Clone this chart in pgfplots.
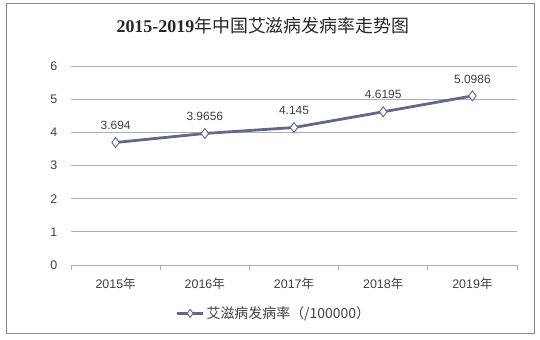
\documentclass[border=0pt]{standalone}
\usepackage{pgfplots}
\pgfplotsset{compat=1.18}
\usepackage{fontspec}
\setmainfont{Liberation Sans}
\newfontfamily\cjk{Noto Sans CJK SC}
\newfontfamily\tserif{Liberation Serif}
\definecolor{lineblue}{RGB}{96,104,142}
\definecolor{txt}{RGB}{64,64,64}
\definecolor{gridc}{RGB}{175,175,175}
\definecolor{framec}{RGB}{137,137,137}
\pgfplotstableread{
x y lab
0.5 3.694 3.694
1.5 3.9656 3.9656
2.5 4.145 4.145
3.5 4.6195 4.6195
4.5 5.0986 5.0986
}\datatab
\begin{document}
\begin{tikzpicture}
\path (0bp,0bp) rectangle (540bp,340bp);
\draw[framec, line width=1bp] (6bp,6bp) rectangle (534bp,336bp);
\node[font=\fontsize{18}{20}\selectfont, text=black!85] at (263bp,314bp) {{\tserif\bfseries 2015-2019}{\cjk 年中国艾滋病发病率走势图}};
\begin{axis}[
  at={(71bp,75bp)}, anchor=origin,
  scale only axis, width=446bp, height=199bp,
  xmin=0, xmax=5, ymin=0, ymax=6,
  ytick={0,1,...,6},
  xtick={0.5,1.5,2.5,3.5,4.5},
  xticklabels={2015{\cjk 年},2016{\cjk 年},2017{\cjk 年},2018{\cjk 年},2019{\cjk 年}},
  minor xtick={0,1,2,3,4,5},
  axis x line*=bottom, axis y line*=left,
  y axis line style={draw=none},
  x axis line style={draw=gridc, line width=0.8bp, -},
  ymajorgrids, grid style={draw=gridc, line width=0.8bp},
  major x tick style={draw=none},
  major y tick style={draw=none},
  minor x tick style={draw=gridc, line width=0.8bp},
  minor tick length=5bp,
  tick align=outside,
  ticklabel style={font=\fontsize{12.5}{14}\selectfont, text=txt},
  xticklabel style={yshift=-5bp},
  yticklabel style={xshift=-6bp},
  /pgf/number format/assume math mode=true,
  nodes near coords,
  point meta=explicit symbolic,
  every node near coord/.append style={font=\fontsize{12}{14}\selectfont, text=txt, yshift=9bp},
  legend style={at={(0.455,-0.243)}, anchor=center, draw=none, fill=none,
     font=\fontsize{14}{16}\selectfont, text=txt, legend cell align=left},
  legend image code/.code={
     \draw[lineblue, line width=2.8bp] (0bp,0bp) -- (26bp,0bp);
     \draw[lineblue, line width=0.9bp, fill=white] plot[mark=diamond*, mark size=4bp] coordinates {(13bp,0bp)};
  },
  clip=false,
]
\addplot[lineblue, line width=2.8bp, mark=diamond*, mark size=5bp,
  mark options={fill=white, draw=lineblue, line width=0.9bp}]
  table[x=x, y=y, meta=lab] {\datatab};
\addlegendentry{{\cjk 艾滋病发病率（/100000）}}
\end{axis}
\end{tikzpicture}
\end{document}
